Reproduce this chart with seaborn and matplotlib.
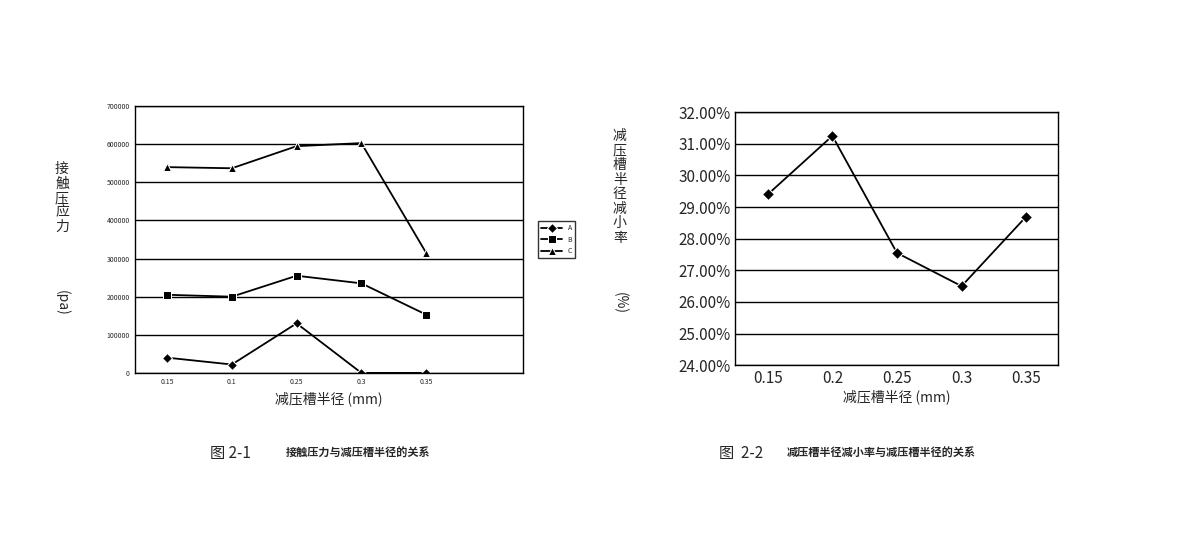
import matplotlib
matplotlib.use("Agg")
import matplotlib.pyplot as plt
import seaborn as sns
import pandas as pd
from matplotlib.ticker import FuncFormatter

sns.set_theme(style="white")
plt.rcParams['font.family'] = ['Noto Sans CJK SC', 'DejaVu Sans']

radii = ["0.15", "0.2", "0.25", "0.3", "0.35"]
left_ticklabels = ["0.15", "0.1", "0.25", "0.3", "0.35"]
series_A = [40000, 22000, 130000, 0, 0]
series_B = [205000, 200000, 255000, 235000, 153000]
series_C = [540000, 537000, 595000, 603000, 315000]
reduction = [29.4, 31.25, 27.55, 26.5, 28.7]

fig = plt.figure(figsize=(11.92, 5.5), dpi=100)
ax1 = fig.add_axes([0.113, 0.322, 0.326, 0.485])
ax2 = fig.add_axes([0.617, 0.336, 0.271, 0.46])

rows = []
for name, vals in (("A", series_A), ("B", series_B), ("C", series_C)):
    for i, v in enumerate(vals):
        rows.append({"x": i, "v": v, "s": name})
df = pd.DataFrame(rows)
sns.lineplot(data=df, x="x", y="v", hue="s", style="s",
             markers={"A": "D", "B": "s", "C": "^"}, dashes=False,
             palette={"A": "black", "B": "black", "C": "black"},
             markersize=5.5, linewidth=1.3, ax=ax1)
ax1.set_xlim(-0.5, 5.5)
ax1.set_ylim(0, 700000)
ax1.set_yticks(range(0, 700001, 100000))
ax1.yaxis.set_major_formatter(FuncFormatter(lambda v, p: f"{int(v)}"))
ax1.set_xticks(range(5))
ax1.set_xticklabels(left_ticklabels)
ax1.tick_params(labelsize=5, length=0)
ax1.grid(axis="y", color="black", linewidth=1)
for s in ax1.spines.values():
    s.set_color("black"); s.set_linewidth(1)
ax1.set_xlabel("减压槽半径 (mm)", fontsize=10)
ax1.set_ylabel("")
fig.text(0.052, 0.64, "接\n触\n压\n应\n力", fontsize=10, ha="center", va="center",
         linespacing=1.05)
fig.text(0.052, 0.45, "(pa)", fontsize=10, ha="center", va="center", rotation=-90)
leg = ax1.legend(loc="center left", bbox_to_anchor=(1.03, 0.5), fontsize=5,
                 frameon=True, fancybox=False, edgecolor="black", handlelength=3)
leg.set_title(None)

df2 = pd.DataFrame({"x": range(5), "v": reduction})
sns.lineplot(data=df2, x="x", y="v", color="black", marker="D", markersize=6,
             linewidth=1.3, ax=ax2)
ax2.set_xlim(-0.5, 4.5)
ax2.set_ylim(24, 32)
ax2.set_yticks(range(24, 33))
ax2.yaxis.set_major_formatter(FuncFormatter(lambda v, p: f"{v:.2f}%"))
ax2.set_xticks(range(5))
ax2.set_xticklabels(radii)
ax2.tick_params(labelsize=11, length=0)
ax2.grid(axis="y", color="black", linewidth=1)
for s in ax2.spines.values():
    s.set_color("black"); s.set_linewidth(1)
ax2.set_xlabel("减压槽半径 (mm)", fontsize=10, labelpad=2)
ax2.set_ylabel("")
fig.text(0.52, 0.66, "减\n压\n槽\n半\n径\n减\n小\n率", fontsize=10,
         ha="center", va="center", linespacing=1.05)
fig.text(0.52, 0.45, "(%)", fontsize=10, ha="center", va="center", rotation=-90)

fig.text(0.176, 0.175, "图 2-1", fontsize=11, va="center")
fig.text(0.24, 0.175, "接触压力与减压槽半径的关系", fontsize=8, va="center", weight="bold")
fig.text(0.603, 0.175, "图  2-2", fontsize=11, va="center")
fig.text(0.66, 0.175, "减压槽半径减小率与减压槽半径的关系", fontsize=8, va="center", weight="bold")

fig.savefig("out.png", dpi=100)
